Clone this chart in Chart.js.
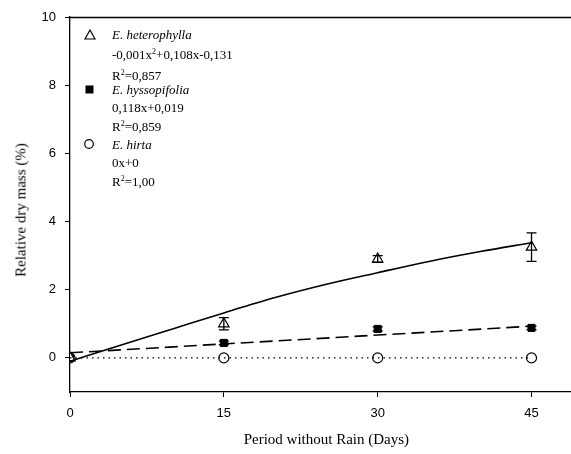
<!DOCTYPE html>
<html>
<head>
<meta charset="utf-8">
<script src="https://cdn.jsdelivr.net/npm/chart.js@4/dist/chart.umd.min.js"></script>
<style>
  html, body { margin: 0; padding: 0; background: #fff; overflow: hidden; }
  #wrap { position: relative; width: 590px; height: 454px; }
  #myChart { position: absolute; left: 0; top: 0; }
  .lg { position: absolute; font-family: "Liberation Serif", "Times New Roman", serif; font-size: 13px; line-height: 16px; color: #000; white-space: nowrap; }
  .lg i { font-style: italic; }
  .lg sup { font-size: 8px; vertical-align: 5px; line-height: 0; }
  .sym { position: absolute; }
  #ytitle { position: absolute; font-family: "Liberation Serif", "Times New Roman", serif; font-size: 15px; color: #000; white-space: nowrap;
            left: 21px; top: 210px; transform: translate(-50%, -50%) rotate(-90deg); }
</style>
</head>
<body>
<div id="wrap">
  <canvas id="myChart" width="590" height="454"></canvas>
  <div id="ytitle">Relative dry mass (%)</div>

  <svg class="sym" style="left:84px;top:29px" width="12" height="12"><polygon points="6,1 11,10 1,10" fill="#fff" stroke="#000" stroke-width="1.2"/></svg>
  <div class="lg" style="left:112px;top:27px"><i>E. heterophylla</i></div>
  <div class="lg" style="left:112px;top:47px">-0,001x<sup>2</sup>+0,108x-0,131</div>
  <div class="lg" style="left:112px;top:68px">R<sup>2</sup>=0,857</div>

  <svg class="sym" style="left:84px;top:84px" width="12" height="12"><rect x="1.5" y="1.5" width="8" height="8" fill="#000"/></svg>
  <div class="lg" style="left:112px;top:82px"><i>E. hyssopifolia</i></div>
  <div class="lg" style="left:112px;top:100px">0,118x+0,019</div>
  <div class="lg" style="left:112px;top:119px">R<sup>2</sup>=0,859</div>

  <svg class="sym" style="left:83px;top:138px" width="12" height="12"><circle cx="6" cy="6" r="4.3" fill="#fff" stroke="#000" stroke-width="1.2"/></svg>
  <div class="lg" style="left:112px;top:137px"><i>E. hirta</i></div>
  <div class="lg" style="left:112px;top:155px">0x+0</div>
  <div class="lg" style="left:112px;top:174px">R<sup>2</sup>=1,00</div>
</div>
<script>
const days = [0, 15, 30, 45];
const hetMean = [0, 1.0, 2.9, 3.25];
const hetErr = [0, 0.18, 0.1, 0.42];
const hysMean = [0, 0.44, 0.85, 0.88];
const hysErr = [0, 0.05, 0.06, 0.05];
const hirMean = [0, 0, 0, 0];

// fitted curves
const fitDays = [0, 5, 10, 15, 20, 25, 30, 35, 40, 45];
const hetFit = [-0.1, 0.38, 0.85, 1.32, 1.77, 2.16, 2.5, 2.83, 3.12, 3.38];
const lineDays = [0, 45];
const hysFit = [0.15, 0.93];
const hirFit = [0, 0];

const xTicks = [0, 15, 30, 45];
const yTicks = [0, 2, 4, 6, 8, 10];

function pts(xs, ys) {
  return xs.map((x, i) => ({ x: x, y: ys[i] }));
}

const errorBars = {
  id: 'errorBars',
  afterDatasetsDraw(chart) {
    const ctx = chart.ctx;
    const xs = chart.scales.x, ys = chart.scales.y;
    ctx.save();
    ctx.strokeStyle = '#000';
    ctx.lineWidth = 1.3;
    chart.data.datasets.forEach(ds => {
      if (!ds.errors) return;
      ds.data.forEach((p, i) => {
        const e = ds.errors[i];
        if (!e) return;
        const px = xs.getPixelForValue(p.x);
        const top = ys.getPixelForValue(p.y + e);
        const bot = ys.getPixelForValue(p.y - e);
        ctx.beginPath();
        ctx.moveTo(px, top); ctx.lineTo(px, bot);
        ctx.moveTo(px - 5, top); ctx.lineTo(px + 5, top);
        ctx.moveTo(px - 5, bot); ctx.lineTo(px + 5, bot);
        ctx.stroke();
      });
    });
    ctx.restore();
  },
  beforeDraw(chart) {
    const a = chart.chartArea, ctx = chart.ctx;
    ctx.save();
    ctx.strokeStyle = '#000';
    ctx.lineWidth = 1.3;
    ctx.beginPath();
    ctx.moveTo(a.left, a.top + 0.5);
    ctx.lineTo(a.right, a.top + 0.5);
    ctx.stroke();
    ctx.restore();
  }
};

const config = {
  type: 'scatter',
  data: {
    datasets: [
      { label: 'E. hirta fit', data: pts(lineDays, hirFit), showLine: true, borderColor: '#000', borderWidth: 1.2, borderDash: [1.5, 4], pointRadius: 0 },
      { label: 'E. hyssopifolia fit', data: pts(lineDays, hysFit), showLine: true, borderColor: '#000', borderWidth: 1.6, borderDash: [13, 6], pointRadius: 0 },
      { label: 'E. heterophylla fit', data: pts(fitDays, hetFit), showLine: true, borderColor: '#000', borderWidth: 1.6, tension: 0.4, cubicInterpolationMode: 'monotone', pointRadius: 0 },
      { label: 'E. heterophylla', data: pts(days, hetMean), errors: hetErr, pointStyle: 'triangle', pointRadius: 6, backgroundColor: '#fff', borderColor: '#000', borderWidth: 1.2 },
      { label: 'E. hyssopifolia', data: pts(days, hysMean), errors: hysErr, pointStyle: 'rect', pointRadius: 5, backgroundColor: '#000', borderColor: '#000', borderWidth: 1 },
      { label: 'E. hirta', data: pts(days, hirMean), pointStyle: 'circle', pointRadius: 5, backgroundColor: '#fff', borderColor: '#000', borderWidth: 1.2 }
    ]
  },
  options: {
    responsive: false,
    animation: false,
    devicePixelRatio: 1,
    layout: { padding: { top: 17, right: 4, left: 0, bottom: 0 } },
    plugins: { legend: { display: false }, tooltip: { enabled: false } },
    scales: {
      x: {
        type: 'linear', min: 0, max: 50,
        afterBuildTicks: s => { s.ticks = xTicks.map(v => ({ value: v })); },
        afterFit: s => { s.height = 62; },
        grid: { display: true, drawOnChartArea: false, drawTicks: true, tickLength: 5, color: '#000', lineWidth: 1 },
        border: { display: true, color: '#000', width: 1.3 },
        ticks: { color: '#000', padding: 9, font: { family: 'Liberation Sans, Arial, sans-serif', size: 13 } },
        title: { display: true, text: 'Period without Rain (Days)', color: '#000', padding: { top: 3, bottom: 5 }, font: { family: 'Liberation Serif, Times New Roman, serif', size: 15 } }
      },
      y: {
        type: 'linear', min: -1, max: 10,
        afterBuildTicks: s => { s.ticks = yTicks.map(v => ({ value: v })); },
        afterFit: s => { s.width = 70; },
        grid: { display: true, drawOnChartArea: false, drawTicks: true, tickLength: 5, color: '#000', lineWidth: 1 },
        border: { display: true, color: '#000', width: 1.3 },
        ticks: { color: '#000', padding: 9, font: { family: 'Liberation Sans, Arial, sans-serif', size: 13 } }
      }
    }
  },
  plugins: [errorBars]
};

const myChart = new Chart(document.getElementById('myChart'), config);
</script>
</body>
</html>
